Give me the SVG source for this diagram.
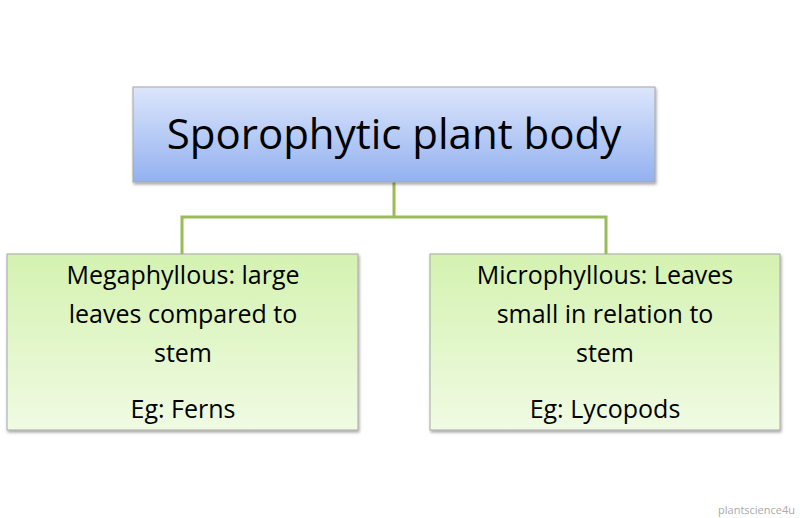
<svg xmlns="http://www.w3.org/2000/svg" width="800" height="518" viewBox="0 0 800 518">
<defs>
<linearGradient id="gb" x1="0" y1="0" x2="0" y2="1"><stop offset="0" stop-color="#dce6fb"/><stop offset="1" stop-color="#93b1f0"/></linearGradient>
<linearGradient id="gg" x1="0" y1="0" x2="0" y2="1"><stop offset="0" stop-color="#d4f2b0"/><stop offset="1" stop-color="#f0fbe3"/></linearGradient>
<filter id="sh" x="-5%" y="-5%" width="110%" height="115%"><feDropShadow dx="1" dy="2" stdDeviation="1.5" flood-color="#000" flood-opacity="0.35"/></filter>
</defs>
<style>
text{font-family:"Open Sans","Liberation Sans",sans-serif;fill:#000;text-anchor:middle}
.t{font-size:25px}
.c{stroke:#9bbb59;stroke-width:3;fill:none}
</style>
<rect width="800" height="518" fill="#fff"/>
<g id="connectors"><path class="c" d="M394,182V217M182,254V217H606V254"/></g>
<g id="root"><rect x="133" y="87" width="522" height="95" fill="url(#gb)" stroke="#a6a6a6" filter="url(#sh)"/>
<text x="394" y="149" style="font-size:42px">Sporophytic plant body</text></g>
<g id="mega"><rect x="7" y="254" width="351" height="176" fill="url(#gg)" stroke="#a6a6a6" filter="url(#sh)"/>
<text class="t" x="183" y="284">Megaphyllous: large</text><text class="t" x="183" y="323">leaves compared to</text><text class="t" x="183" y="362">stem</text><text class="t" x="183" y="418">Eg: Ferns</text></g>
<g id="micro"><rect x="430" y="254" width="350" height="176" fill="url(#gg)" stroke="#a6a6a6" filter="url(#sh)"/>
<text class="t" x="605" y="284">Microphyllous: Leaves</text><text class="t" x="605" y="323">small in relation to</text><text class="t" x="605" y="362">stem</text><text class="t" x="605" y="418">Eg: Lycopods</text></g>
<text x="795" y="514" style="font-size:11px;fill:#aaa;text-anchor:end">plantscience4u</text>
</svg>
